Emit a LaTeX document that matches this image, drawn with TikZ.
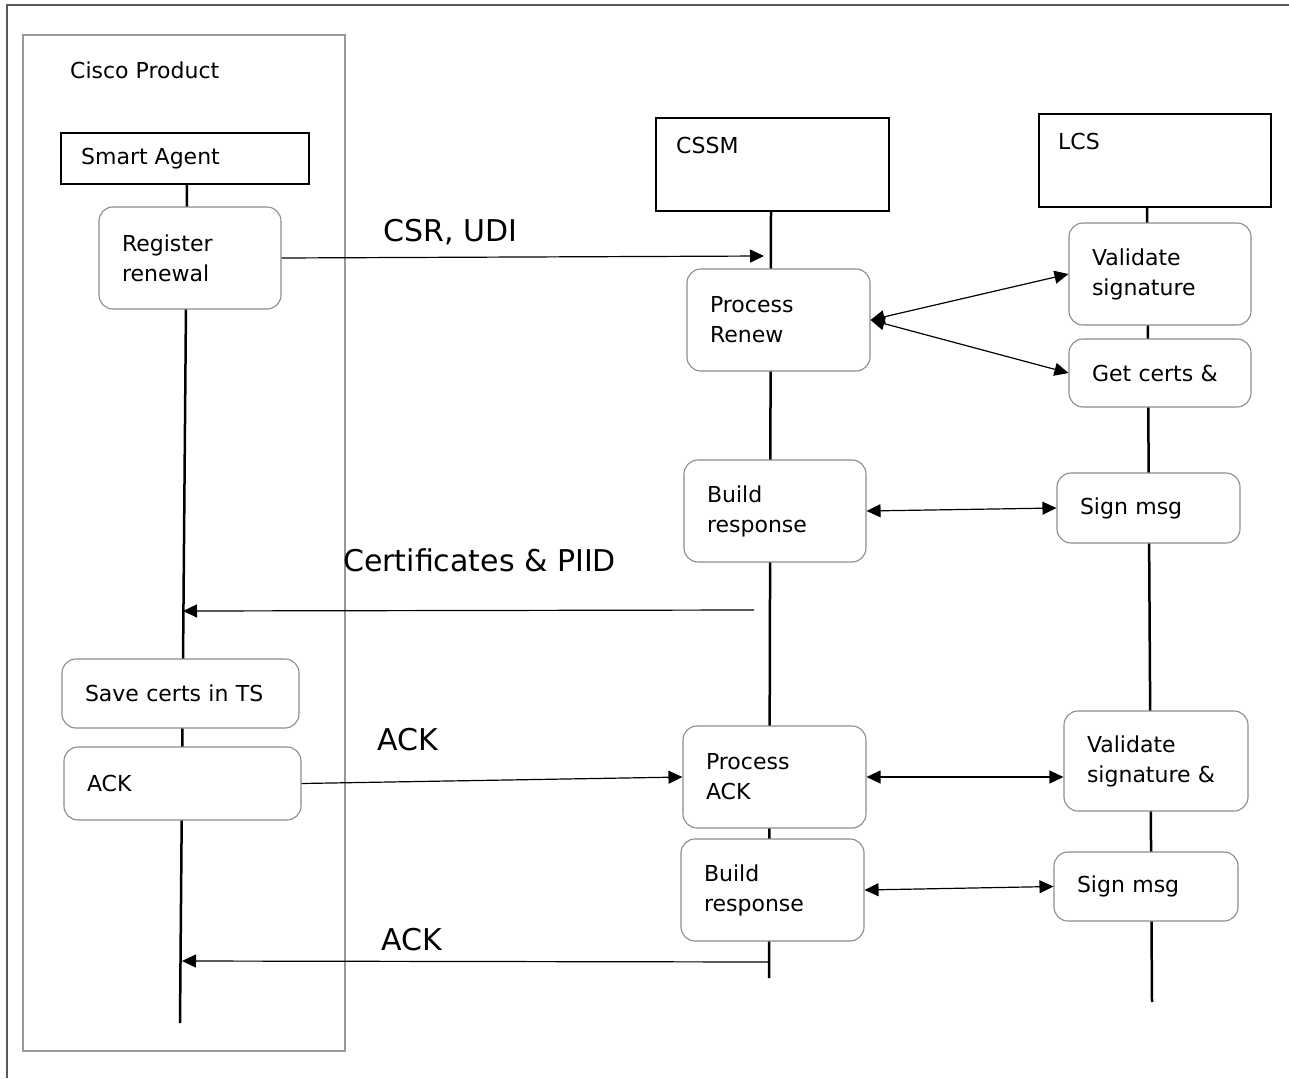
\documentclass[tikz,border=0pt]{standalone}
\usepackage{fontspec}
\setmainfont{DejaVu Sans}
\usetikzlibrary{arrows.meta}
\begin{document}
\begin{tikzpicture}[x=1pt,y=-1pt,
  txt/.style={font=\fontsize{22}{30}\selectfont, inner sep=0pt, align=left},
  big/.style={font=\fontsize{30}{36}\selectfont, inner sep=0pt, anchor=west},
  actor/.style={draw=black, line width=1.3pt, fill=white, minimum width=#1, inner sep=0pt},
  proc/.style={draw=black!45, line width=1.1pt, fill=white, rounded corners=14pt,
    font=\fontsize{22}{30}\selectfont, align=left, inner xsep=23pt, inner ysep=0pt,
    text width=#1},
  life/.style={line width=2.5pt, black},
  msg/.style={line width=1.2pt, black, -{Triangle[length=14pt,width=13pt]}},
  dmsg/.style={line width=1.2pt, black, {Triangle[length=14pt,width=13pt]}-{Triangle[length=14pt,width=13pt]}},
  frame/.style={draw=black!65, line width=2pt},
  group/.style={draw=black!40, line width=1.4pt}
]
\useasboundingbox (0,0) rectangle (1289,1078);

% outer frame (only top and left edges are visible)
\coordinate (fbl) at (7,1078);
\coordinate (ftl) at (7,5);
\coordinate (ftr) at (1289,5);
\draw[frame] (fbl) -- (ftl) -- (ftr);

% Cisco product group
\node[group, minimum width=322pt, minimum height=1016pt, inner sep=0pt] (cisco) at (184,543) {};
\node[txt, anchor=west] (ciscot) at (70,70) {Cisco Product};

% lifeline end points
\coordinate (saTop) at (187,184);
\coordinate (saBot) at (180,1023);
\coordinate (csTop) at (771,211);
\coordinate (csBot) at (769,978);
\coordinate (lcTop) at (1147,207);
\coordinate (lcBot) at (1152,1002);
\draw[life] (saTop) -- (saBot);
\draw[life] (csTop) -- (csBot);
\draw[life] (lcTop) -- (lcBot);

% actors
\node[actor=248pt, minimum height=51pt] (sa) at (185,158.5) {};
\node[txt, anchor=west] (sat) at (81,159) {Smart Agent};
\node[actor=233pt, minimum height=93pt] (cssm) at (772.5,164.5) {};
\node[txt, anchor=west] (cssmt) at (676,145) {CSSM};
\node[actor=232pt, minimum height=93pt] (lcs) at (1155,160.5) {};
\node[txt, anchor=west] (lcst) at (1058,141) {LCS};

% activity boxes
\node[proc=136pt, minimum height=102pt] (reg) at (190,258) {Register\\renewal};
\node[proc=137pt, minimum height=102pt] (pr) at (778.5,320) {Process\\Renew};
\node[proc=136pt, minimum height=102pt] (vs) at (1160,274) {Validate\\signature};
\node[proc=136pt, minimum height=68pt] (gc) at (1160,373) {Get certs \&};
\node[proc=136pt, minimum height=102pt] (br) at (775,511) {Build\\response};
\node[proc=137pt, minimum height=70pt] (sm) at (1148.5,508) {Sign msg};
\node[proc=191pt, minimum height=69pt] (sv) at (180.5,693.5) {Save certs in TS};
\node[proc=191pt, minimum height=73pt] (ack) at (182.5,783.5) {ACK};
\node[proc=137pt, minimum height=102pt] (pa) at (774.5,777) {Process\\ACK};
\node[proc=138pt, minimum height=100pt] (vs2) at (1156,761) {Validate\\signature \&};
\node[proc=137pt, minimum height=102pt] (br2) at (772.5,890) {Build\\response};
\node[proc=138pt, minimum height=69pt] (sm2) at (1146,886.5) {Sign msg};

% messages
\coordinate (csrEnd) at (764,256);
\draw[msg] (reg.east) -- (csrEnd);
\node[big] (csrl) at (383,232) {CSR, UDI};

\draw[dmsg] (pr.east) -- (vs.west);
\draw[dmsg] (pr.east) -- (gc.west);
\draw[dmsg] (br.east) -- (sm.west);

\coordinate (certStart) at (754,610);
\coordinate (certEnd) at (183,611);
\draw[msg] (certStart) -- (certEnd);
\node[big] (certl) at (343,560) {Certificates \& PIID};

\draw[msg] (ack.east) -- (pa.west);
\node[big] (ackl) at (377,740) {ACK};

\draw[dmsg] (pa.east) -- (pa.east -| vs2.west);
\draw[dmsg] (br2.east) -- (sm2.west);

\coordinate (ackStart) at (769,962);
\coordinate (ackEnd) at (182,961);
\draw[msg] (ackStart) -- (ackEnd);
\node[big] (ack2l) at (381,940) {ACK};
\end{tikzpicture}
\end{document}
